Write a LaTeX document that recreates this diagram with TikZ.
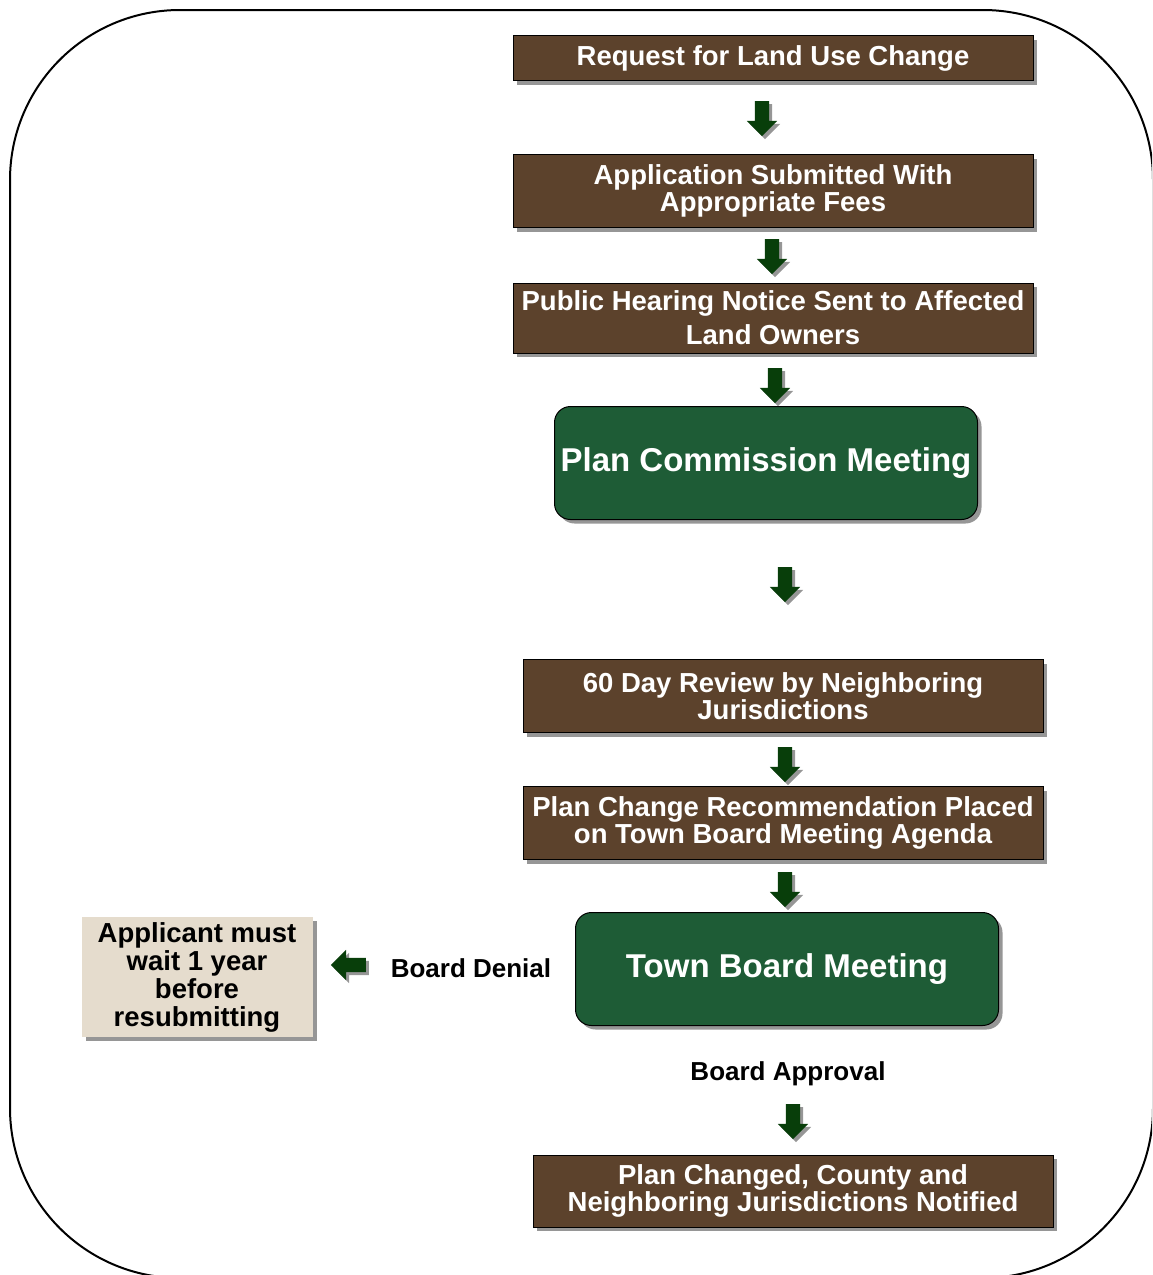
\documentclass[tikz,border=0pt]{standalone}
\usepackage{fontspec}
\setmainfont{Liberation Sans}
\usetikzlibrary{shapes.arrows,shadows}

\definecolor{marble}{RGB}{92,66,44}
\definecolor{felt}{RGB}{30,92,54}
\definecolor{sand}{RGB}{229,220,205}
\definecolor{arrowgreen}{RGB}{8,62,10}
\definecolor{shade}{RGB}{150,150,150}

\tikzset{
  boxshadow/.style={drop shadow={shadow xshift=4pt, shadow yshift=-4pt, fill=shade, opacity=1}},
  stepbox/.style={draw=black, line width=1pt, fill=marble, text=white, align=center,
    font=\fontsize{27.5}{27}\selectfont\bfseries, inner sep=0pt,
    minimum width=520pt, boxshadow},
  meetbox/.style={draw=black, line width=1pt, fill=felt, text=white, rounded corners=16pt,
    font=\fontsize{33}{33}\selectfont\bfseries, inner sep=0pt,
    minimum width=423pt, minimum height=113pt, boxshadow},
  waitbox/.style={fill=sand, align=center, font=\fontsize{27.5}{28}\selectfont\bfseries,
    inner sep=0pt, minimum width=231pt, minimum height=120pt, boxshadow},
  label/.style={font=\fontsize{26}{26}\selectfont\bfseries},
  flowarrow/.style={single arrow, fill=arrowgreen, draw=none, inner sep=7pt,
    minimum height=35pt, single arrow head extend=8pt,
    shape border rotate=270, drop shadow={shadow xshift=3pt, shadow yshift=-3pt, fill=shade, opacity=1}}
}

\begin{document}
\begin{tikzpicture}[x=1pt, y=-1pt]
    \useasboundingbox (0,0) rectangle (1152,1275);
    \clip (0,0) rectangle (1152,1275);

    % Frame round the whole chart
    \draw[line width=2pt, rounded corners=170pt] (10,10) rectangle (1153,1278);

    % Steps of the process
    \node[stepbox, minimum height=45pt] (request) at (773,58) {Request for Land Use Change};
    \node[stepbox, minimum height=73pt] (apply) at (773,191) {Application Submitted With\\Appropriate Fees};
    \node[stepbox, minimum height=70pt] (notice) at (773,318) {Public Hearing Notice Sent to Affected\\[7pt]Land Owners};
    \node[meetbox] (plancomm) at (766,463) {Plan Commission Meeting};
    \node[stepbox, minimum height=73pt] (review) at (783,696) {60 Day Review by Neighboring\\Jurisdictions};
    \node[stepbox, minimum height=73pt] (agenda) at (783,823) {Plan Change Recommendation Placed\\on Town Board Meeting Agenda};
    \node[meetbox] (townboard) at (787,969) {Town Board Meeting};
    \node[stepbox, minimum height=72pt] (notified) at (793,1191) {Plan Changed, County and\\Neighboring Jurisdictions Notified};
    \node[waitbox] (wait) at (197,977) {Applicant must\\wait 1 year\\before\\resubmitting};

    % Outcomes of the board meeting
    \node[label] (denial) at (471,968) {Board Denial};
    \node[label] (approval) at (788,1074) {Board Approval};

    % Block arrows between the steps
    \node[flowarrow] (a1) at (762,115) {};
    \node[flowarrow] (a2) at (772,253) {};
    \node[flowarrow] (a3) at (775,382) {};
    \node[flowarrow] (a4) at (785,581) {};
    \node[flowarrow] (a5) at (785,761) {};
    \node[flowarrow] (a6) at (785,886) {};
    \node[flowarrow] (a7) at (793,1118) {};
    \node[flowarrow, shape border rotate=180] (aback) at (352,965) {};

\end{tikzpicture}
\end{document}
